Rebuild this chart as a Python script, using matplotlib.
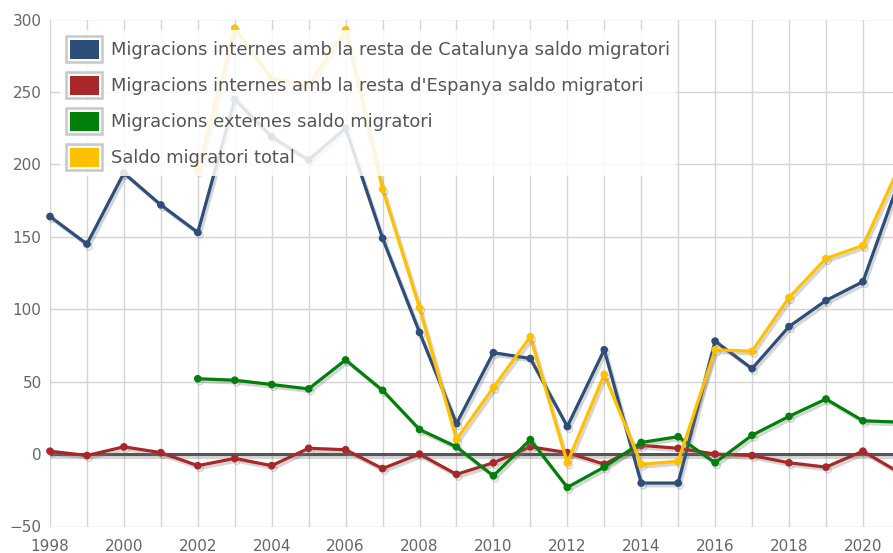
import matplotlib.pyplot as plt
import matplotlib.patheffects as pe
from matplotlib.patches import Rectangle, Patch
import numpy as np

years = list(range(1998, 2022))
catalunya = [164, 145, 194, 172, 153, 245, 219, 203, 225, 149, 84, 21,
             70, 66, 19, 72, -20, -20, 78, 59, 88, 106, 119, 190]
espanya = [2, -1, 5, 1, -8, -3, -8, 4, 3, -10, 0, -14,
           -6, 5, 1, -7, 6, 4, 0, -1, -6, -9, 2, -13]
externes = [np.nan, np.nan, np.nan, np.nan, 52, 51, 48, 45, 65, 44, 17, 5,
            -15, 10, -23, -9, 8, 12, -6, 13, 26, 38, 23, 22]
total = [np.nan, np.nan, np.nan, np.nan, 196, 294, 259, 255, 293, 183, 101, 10,
         46, 81, -6, 55, -7, -5, 72, 71, 108, 135, 144, 199]

labels = [
    "Migracions internes amb la resta de Catalunya saldo migratori",
    "Migracions internes amb la resta d'Espanya saldo migratori",
    "Migracions externes saldo migratori",
    "Saldo migratori total",
]
colors = ["#2d4e78", "#a8282a", "#00800a", "#ffc000"]
series = [catalunya, espanya, externes, total]


class BoxHandler:
    # grey outer frame, white gap, coloured fill
    def legend_artist(self, legend, orig_handle, fontsize, handlebox):
        x0, y0 = -handlebox.xdescent, -handlebox.ydescent
        w, h = handlebox.width, handlebox.height
        tr = handlebox.get_transform()
        outer = Rectangle((x0, y0), w, h, facecolor="white",
                          edgecolor="#c8c8c8", lw=1.8, transform=tr)
        inner = Rectangle((x0 + 2.5, y0 + 2.5), w - 5, h - 5,
                          facecolor=orig_handle.get_facecolor(),
                          edgecolor="none", transform=tr)
        handlebox.add_artist(outer)
        handlebox.add_artist(inner)
        return inner


fig = plt.figure(figsize=(8.93, 5.53), dpi=100)
ax = fig.add_axes([50 / 893, 26.5 / 553, 843 / 893, 507 / 553])

shadow = [pe.SimpleLineShadow(offset=(1.5, -2), shadow_color="#777777", alpha=0.3),
          pe.Normal()]

ax.axhline(0, color="#555555", lw=2.2, zorder=2, path_effects=shadow)

for vals, c in zip(series, colors):
    ax.plot(years, vals, color=c, lw=2.3, marker="o", markersize=4.5,
            zorder=3, clip_on=False, path_effects=shadow)

ax.set_xlim(1998, 1998 + 843 / 36.95)
ax.set_ylim(-50, 300)
ax.set_yticks(range(-50, 301, 50))
ax.set_xticks(years[:-1])
ax.set_xticklabels([str(y) if y % 2 == 0 else "" for y in years[:-1]])
ax.grid(True, color="#d4d4d4", lw=1)
ax.set_axisbelow(True)
for s in ax.spines.values():
    s.set_visible(False)
ax.tick_params(length=0, labelsize=11, colors="#666666")
ax.tick_params(axis="x", pad=9)
ax.tick_params(axis="y", pad=6)

handles = [Patch(facecolor=c) for c in colors]
leg = ax.legend(handles, labels, loc="upper left",
                bbox_to_anchor=(10 / 843, 1 - 10.5 / 507),
                fontsize=12.9, labelcolor="#555555", frameon=True,
                framealpha=0.85, facecolor="white", edgecolor="none",
                fancybox=False, handlelength=2.0, handleheight=1.85,
                handletextpad=0.5, labelspacing=0.56, borderpad=0.35,
                borderaxespad=0, handler_map={Patch: BoxHandler()})
leg.set_zorder(10)

fig.savefig("out.png", dpi=100)
